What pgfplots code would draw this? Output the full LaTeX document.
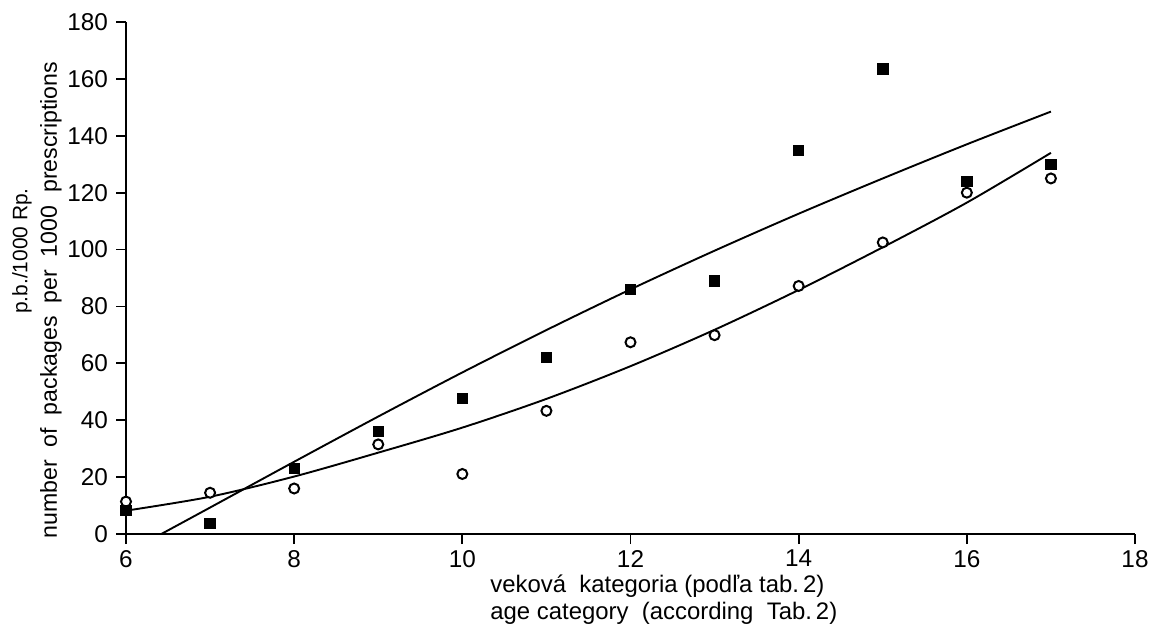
\documentclass[border=0pt]{standalone}
\usepackage{pgfplots}
\pgfplotsset{compat=1.18}
\usepackage{fontspec}
\setmainfont{Liberation Sans}

\begin{document}
\begin{tikzpicture}
\begin{axis}[
    scale only axis,
    width=504.5bp, height=256bp,
    xmin=6, xmax=18,
    ymin=0, ymax=180,
    xtick={6,8,...,18},
    ytick={0,20,...,180},
    axis lines=left,
    axis line style={-, line width=1bp},
    tick align=outside,
    major tick length=5bp,
    tick style={line width=0.9bp, black},
    clip=false,
    font=\fontsize{12.2}{14}\selectfont,
    /pgf/number format/assume math mode=true,
    yticklabel style={xshift=-0.5bp},
    xticklabel style={yshift=0.5bp},
]
\coordinate (origin) at (axis cs:6,0);

% fitted curves
\addplot[black, line width=0.95bp, smooth] coordinates {
    (6.42,0)(7,9.3)(8,25.4)(9,41.3)(10,56.8)(11,71.7)(12,86)
    (13,99.6)(14,112.6)(15,125)(16,137)(17,148.5)
};
\addplot[black, line width=0.95bp, smooth] coordinates {
    (6,8.2)(7,13.1)(8,20.2)(9,28.6)(10,37.4)(11,47.5)(12,59)
    (13,71.8)(14,85.8)(15,100.8)(16,116.5)(17,134)
};

% open circles
\addplot[only marks, mark=*, mark size=2.5bp, mark options={fill=white, draw=black, line width=1bp}] coordinates {
    (6,11.4)(7,14.5)(8,16)(9,31.5)(10,21.1)(11,43.3)(12,67.4)
    (13,69.9)(14,87.2)(15,102.5)(16,120)(17,125)
};
% filled squares
\addplot[only marks, mark=square*, mark size=2.6bp, mark options={fill=black, draw=black}] coordinates {
    (6,8.4)(7,3.8)(8,23.1)(9,36)(10,47.7)(11,62)(12,86)
    (13,89)(14,134.8)(15,163.5)(16,124)(17,130)
};
\end{axis}

\node[rotate=90, font=\fontsize{10.5}{12}\selectfont] at ([shift={(-52bp,141.5bp)}]origin) {p.b./1000 Rp.};
\node[rotate=90, font=\fontsize{11.6}{13}\selectfont] at ([shift={(-37.5bp,117bp)}]origin)
    {number\ \ of\ \ packages\ \ per\ \ 1000\ \ prescriptions};
\node[anchor=west, font=\fontsize{12}{14}\selectfont, inner sep=0pt] at ([shift={(182bp,-26bp)}]origin)
    {veková\ \ kategoria (podľa tab.\,2)};
\node[anchor=west, font=\fontsize{12}{14}\selectfont, inner sep=0pt] at ([shift={(182bp,-39.5bp)}]origin)
    {age category\ \ (according\ \ Tab.\,2)};

\pgfresetboundingbox
\path ([shift={(-63bp,-45bp)}]origin) rectangle ++(574.5bp,312bp);
\end{tikzpicture}
\end{document}
